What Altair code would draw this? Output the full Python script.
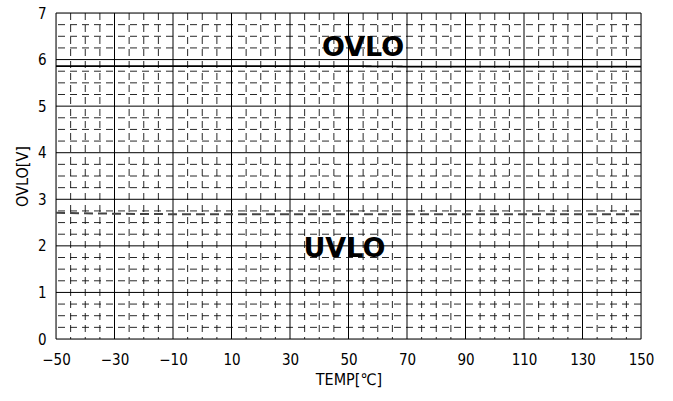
import altair as alt
import pandas as pd

# Temperature sweep (°C) and measured thresholds (V)
temps = [-50, -30, -10, 10, 30, 50, 70, 90, 110, 130, 150]
ovlo = [5.86, 5.86, 5.86, 5.86, 5.86, 5.86, 5.85, 5.85, 5.85, 5.85, 5.85]
uvlo = [2.71, 2.69, 2.68, 2.68, 2.68, 2.68, 2.68, 2.68, 2.68, 2.68, 2.68]

x_major = list(range(-50, 151, 20))
x_minor = [v for v in range(-50, 151, 5) if (v + 50) % 20 != 0]
y_major = list(range(0, 8))
y_minor = [i * 0.25 for i in range(29) if i % 4 != 0]

# Text annotations: label, temperature, voltage
labels = ["OVLO", "UVLO"]
label_x = [55, 48.6]
label_y = [6.24, 1.93]

FONT = "Liberation Sans Narrow, DejaVu Sans Condensed, Noto Sans CJK JP"
XS = alt.Scale(domain=[-50, 150], nice=False, zero=False)
YS = alt.Scale(domain=[0, 7], nice=False, zero=False)

series = pd.DataFrame({
    "temp": temps * 2,
    "v": ovlo + uvlo,
    "name": ["OVLO"] * len(temps) + ["UVLO"] * len(temps),
})

vminor = alt.Chart(pd.DataFrame({"x": x_minor})).mark_rule(
    color="#111", strokeWidth=0.9, strokeDash=[7, 5]
).encode(x=alt.X("x:Q", scale=XS))
hminor = alt.Chart(pd.DataFrame({"y": y_minor})).mark_rule(
    color="#111", strokeWidth=0.9, strokeDash=[7, 5]
).encode(y=alt.Y("y:Q", scale=YS))
vmajor = alt.Chart(pd.DataFrame({"x": x_major})).mark_rule(
    color="#000", strokeWidth=1
).encode(x=alt.X("x:Q", scale=XS))
hmajor = alt.Chart(pd.DataFrame({"y": y_major})).mark_rule(
    color="#000", strokeWidth=1
).encode(y=alt.Y("y:Q", scale=YS))

lines = alt.Chart(series).mark_line(color="#000").encode(
    x=alt.X(
        "temp:Q", scale=XS, title="TEMP[℃]",
        axis=alt.Axis(values=x_major, grid=False, ticks=False, domain=False,
                      labelFontSize=15, labelPadding=13, titleFontSize=16,
                      titlePadding=4, labelFont=FONT, titleFont=FONT,
                      titleFontWeight="normal", labelColor="#000",
                      titleColor="#000", labelFlush=False),
    ),
    y=alt.Y(
        "v:Q", scale=YS, title="OVLO[V]",
        axis=alt.Axis(values=y_major, grid=False, ticks=False, domain=False,
                      labelFontSize=15, labelPadding=10, titleFontSize=16,
                      titlePadding=7, labelFont=FONT, titleFont=FONT,
                      titleFontWeight="normal", labelColor="#000",
                      titleColor="#000", labelFlush=False),
    ),
    strokeDash=alt.StrokeDash(
        "name:N", legend=None,
        scale=alt.Scale(domain=["OVLO", "UVLO"], range=[[1, 0], [9, 5]]),
    ),
    strokeWidth=alt.StrokeWidth(
        "name:N", legend=None,
        scale=alt.Scale(domain=["OVLO", "UVLO"], range=[1.8, 2]),
    ),
    color=alt.Color(
        "name:N", legend=None,
        scale=alt.Scale(domain=["OVLO", "UVLO"], range=["#000", "#444"]),
    ),
)

text = alt.Chart(pd.DataFrame({"t": labels, "x": label_x, "y": label_y})).mark_text(
    font="DejaVu Sans", fontSize=27, fontWeight="bold", color="#000",
).encode(x=alt.X("x:Q", scale=XS), y=alt.Y("y:Q", scale=YS), text="t:N")

chart = alt.layer(vminor, hminor, vmajor, hmajor, lines, text).properties(
    width=585, height=326,
    autosize=alt.AutoSizeParams(type="none"),
    padding={"left": 56, "top": 13, "right": 32, "bottom": 62},
).configure_view(stroke="#000", strokeWidth=2).configure(background="white")

chart.save("out.html", embed_options={"renderer": "svg", "actions": False})
